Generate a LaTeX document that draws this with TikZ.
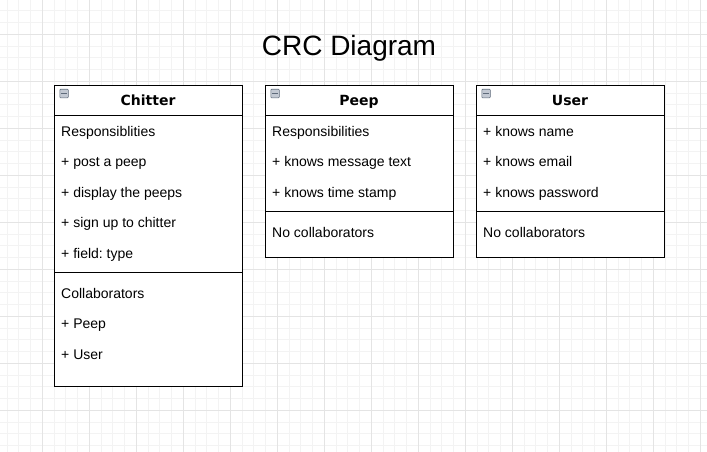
\documentclass[tikz,border=0pt]{standalone}
\usepackage{fontspec}
\setmainfont{Liberation Sans}
\newfontfamily\hdrfont{DejaVu Sans}
\frenchspacing
\definecolor{minorgrid}{HTML}{F3F3F3}
\definecolor{majorgrid}{HTML}{E4E4E4}
\definecolor{iconfill}{HTML}{C3C9D3}
\definecolor{iconline}{HTML}{5F6B7B}
\tikzset{
  minorline/.style={draw=minorgrid, line width=0.8pt},
  majorline/.style={draw=majorgrid, line width=0.8pt},
  crcbox/.style={draw=black, fill=white, line width=1pt, anchor=north west, inner sep=0pt, minimum width=188pt},
  sepline/.style={draw=black, line width=1pt},
  hdr/.style={font=\hdrfont\bfseries\fontsize{14}{16}\selectfont, inner sep=0pt, anchor=base},
  item/.style={font=\fontsize{14}{16}\selectfont, anchor=base west, inner sep=0pt},
  icon/.style={draw=iconline, fill=iconfill, line width=0.6pt, rounded corners=0.8pt, minimum size=8.5pt, inner sep=0pt, anchor=north west},
}
\begin{document}
\begin{tikzpicture}[x=1pt,y=-1pt]
\useasboundingbox (0,0) rectangle (707,452);
\fill[white] (0,0) rectangle (707,452);
\begin{scope}
\clip (0,0) rectangle (707,452);
\foreach \i in {0,...,59} \draw[minorline] ({7.05+11.75*\i},0) -- ++(0,452);
\foreach \i in {0,...,37} \draw[minorline] (0,{10.8+11.75*\i}) -- ++(707,0);
\foreach \i in {0,...,14} \draw[majorline] ({42.3+47*\i},0) -- ++(0,452);
\foreach \i in {0,...,8} \draw[majorline] (0,{34.3+47*\i}) -- ++(707,0);
\end{scope}

\node (title) [font=\fontsize{28}{32}\selectfont, inner sep=0pt, anchor=base] at (349,55.3) {CRC Diagram};

% Chitter
\node (chitter) [crcbox, minimum height=301pt] at (54,85) {};
\draw[sepline] ([yshift=-30pt]chitter.north west) -- ([yshift=-30pt]chitter.north east);
\draw[sepline] ([yshift=-187pt]chitter.north west) -- ([yshift=-187pt]chitter.north east);
\node (chittericon) [icon] at (59.5,89) {};
\draw[iconline, line width=1.2pt] ([xshift=1.8pt]chittericon.west) -- ([xshift=-1.8pt]chittericon.east);
\node (chitterhdr) [hdr] at (148,105) {Chitter};
\node (c1) [item] at (61,136) {Responsiblities};
\node (c2) [item] at (61,166) {+ post a peep};
\node (c3) [item] at (61,197) {+ display the peeps};
\node (c4) [item] at (61,227) {+ sign up to chitter};
\node (c5) [item] at (61,258) {+ field: type};
\node (c6) [item] at (61,298) {Collaborators};
\node (c7) [item] at (61,328) {+ Peep};
\node (c8) [item] at (61,359) {+ User};

% Peep
\node (peep) [crcbox, minimum height=172pt] at (265,85) {};
\draw[sepline] ([yshift=-30pt]peep.north west) -- ([yshift=-30pt]peep.north east);
\draw[sepline] ([yshift=-126pt]peep.north west) -- ([yshift=-126pt]peep.north east);
\node (peepicon) [icon] at (270.5,89) {};
\draw[iconline, line width=1.2pt] ([xshift=1.8pt]peepicon.west) -- ([xshift=-1.8pt]peepicon.east);
\node (peephdr) [hdr] at (359,105) {Peep};
\node (p1) [item] at (272,136) {Responsibilities};
\node (p2) [item] at (272,166) {+ knows message text};
\node (p3) [item] at (272,197) {+ knows time stamp};
\node (p4) [item] at (272,237) {No collaborators};

% User
\node (user) [crcbox, minimum height=172pt] at (476,85) {};
\draw[sepline] ([yshift=-30pt]user.north west) -- ([yshift=-30pt]user.north east);
\draw[sepline] ([yshift=-126pt]user.north west) -- ([yshift=-126pt]user.north east);
\node (usericon) [icon] at (481.5,89) {};
\draw[iconline, line width=1.2pt] ([xshift=1.8pt]usericon.west) -- ([xshift=-1.8pt]usericon.east);
\node (userhdr) [hdr] at (570,105) {User};
\node (u1) [item] at (483,136) {+ knows name};
\node (u2) [item] at (483,166) {+ knows email};
\node (u3) [item] at (483,197) {+ knows password};
\node (u4) [item] at (483,237) {No collaborators};
\end{tikzpicture}
\end{document}
